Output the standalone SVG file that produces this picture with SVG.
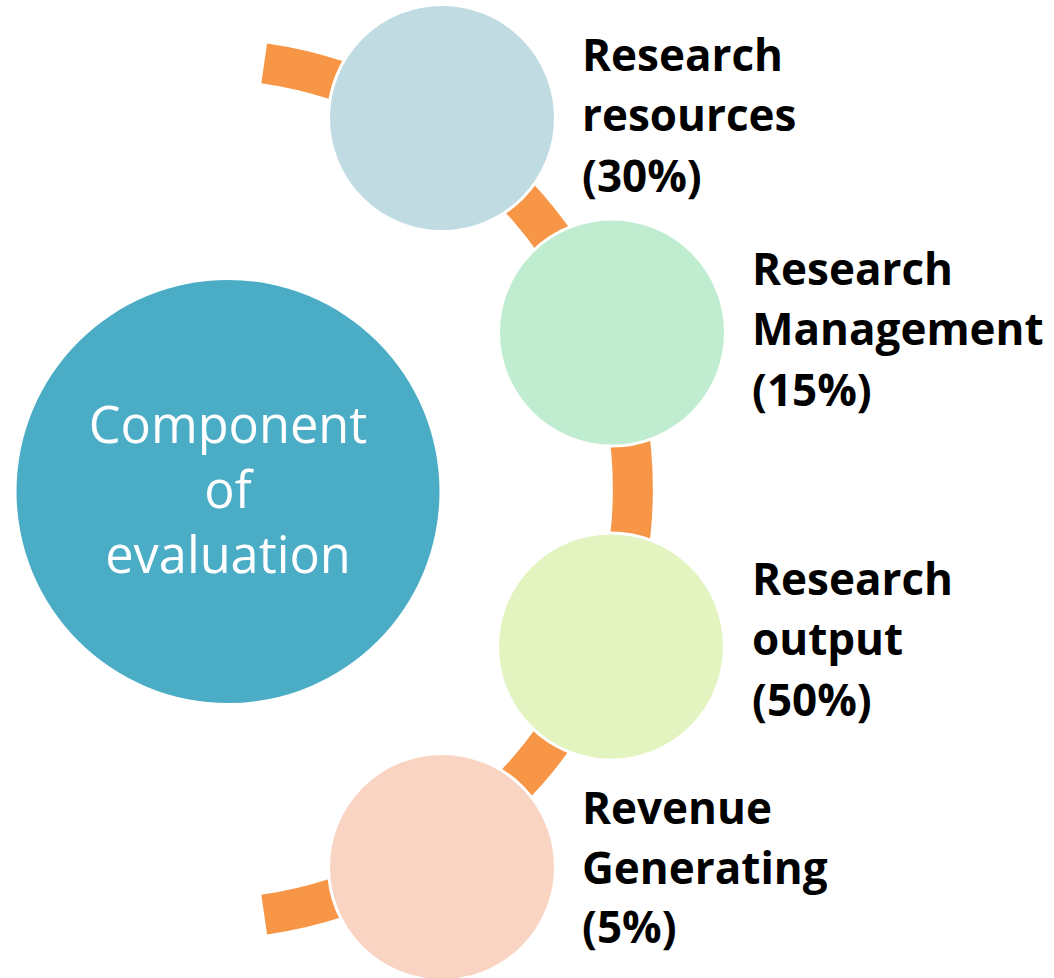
<svg xmlns="http://www.w3.org/2000/svg" width="1054" height="978" viewBox="0 0 1054 978">
<style>
.ring{fill:none;stroke:#F79646;stroke-width:40;stroke-linecap:butt}
.node{stroke:#FFFFFF;stroke-width:3}
.lbl{font-family:"Open Sans","Noto Sans",sans-serif;font-weight:bold;font-size:44px;fill:#000000}
.main{font-family:"Open Sans","Noto Sans",sans-serif;font-size:50.5px;fill:#FFFFFF;text-anchor:middle}
</style>
<rect width="1054" height="978" fill="#FFFFFF"/>
<g id="connectors">
<path class="ring" d="M 264.2 63.4 A 430 430 0 0 1 264.2 914.6"/>
</g>
<g id="center">
<circle cx="228" cy="491.5" r="211.5" fill="#4BACC6"/>
<text class="main"><tspan x="228" y="443">Component</tspan><tspan x="228" y="508">of</tspan><tspan x="228" y="573">evaluation</tspan></text>
</g>
<g id="node-resources">
<circle class="node" cx="442" cy="118" r="113.5" fill="#C1DBE3"/>
<text class="lbl"><tspan x="582" y="71">Research</tspan><tspan x="582" y="131">resources</tspan><tspan x="582" y="192">(30%)</tspan></text>
</g>
<g id="node-management">
<circle class="node" cx="612" cy="332.5" r="113.5" fill="#C0ECD0"/>
<text class="lbl"><tspan x="752" y="285">Research</tspan><tspan x="752" y="345">Management</tspan><tspan x="752" y="406">(15%)</tspan></text>
</g>
<g id="node-output">
<circle class="node" cx="611" cy="646.5" r="113.5" fill="#E3F4C1"/>
<text class="lbl"><tspan x="752" y="595">Research</tspan><tspan x="752" y="655">output</tspan><tspan x="752" y="716">(50%)</tspan></text>
</g>
<g id="node-revenue">
<circle class="node" cx="442" cy="867" r="113.5" fill="#F9D4C3"/>
<text class="lbl"><tspan x="582" y="824">Revenue</tspan><tspan x="582" y="884">Generating</tspan><tspan x="582" y="943">(5%)</tspan></text>
</g>
</svg>
